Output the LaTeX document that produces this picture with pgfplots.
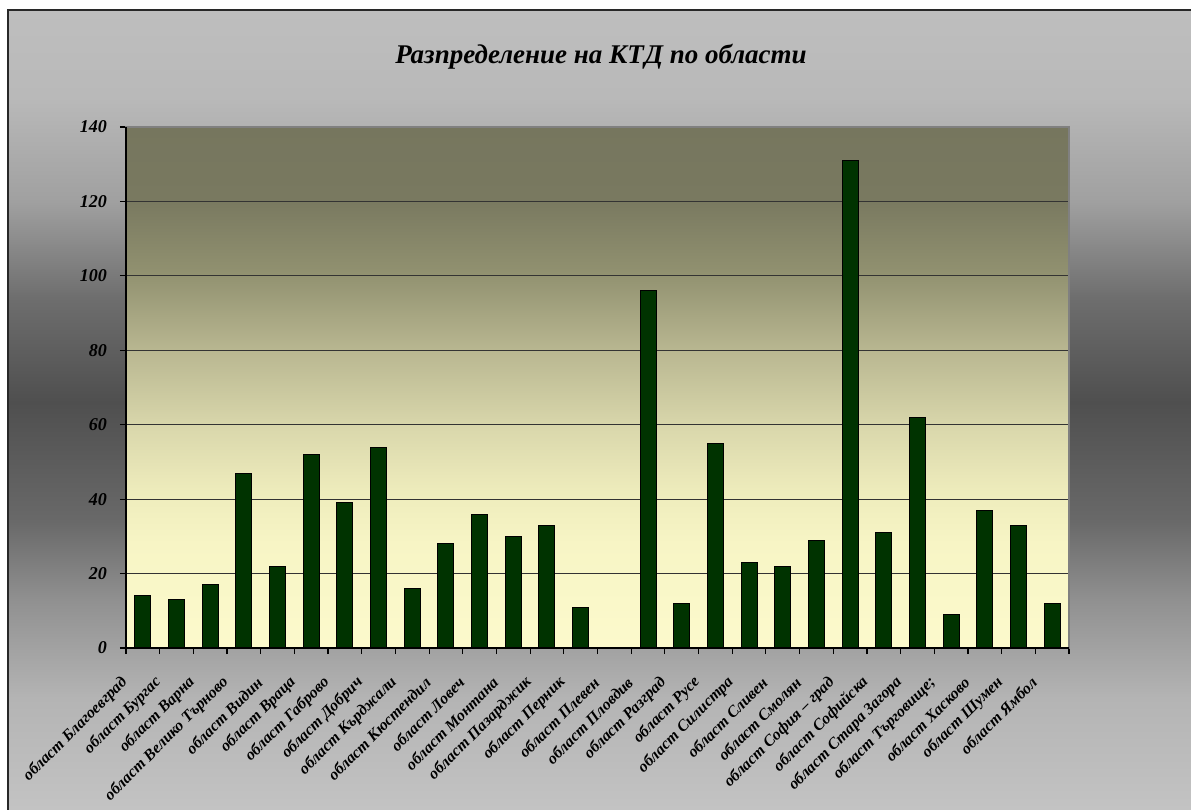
\documentclass[border=0pt]{standalone}
\usepackage{pgfplots}
\pgfplotsset{compat=1.18}
\usepackage{fontspec}
\setmainfont{Liberation Serif}

\definecolor{bargreen}{RGB}{0,51,0}
\definecolor{framedark}{RGB}{40,40,40}

% shadings: the shaded path covers the part from 25bp to 75bp
% plot area: dark olive at top, light yellow at bottom
\pgfdeclareverticalshading{plotbg}{100bp}{%
  rgb(0bp)=(0.988,0.980,0.800);
  rgb(25bp)=(0.988,0.980,0.800);
  rgb(35bp)=(0.969,0.961,0.773);
  rgb(40bp)=(0.933,0.925,0.737);
  rgb(46bp)=(0.855,0.847,0.675);
  rgb(53.5bp)=(0.725,0.718,0.569);
  rgb(61bp)=(0.569,0.569,0.439);
  rgb(68bp)=(0.475,0.475,0.376);
  rgb(75bp)=(0.463,0.463,0.369);
  rgb(100bp)=(0.463,0.463,0.369)}
% chart area: light grey, dark band in the middle
\pgfdeclareverticalshading{outerbg}{100bp}{%
  rgb(0bp)=(0.765,0.765,0.765);
  rgb(25bp)=(0.765,0.765,0.765);
  rgb(32bp)=(0.706,0.706,0.706);
  rgb(38bp)=(0.569,0.569,0.569);
  rgb(43bp)=(0.412,0.412,0.412);
  rgb(50.5bp)=(0.310,0.310,0.310);
  rgb(57bp)=(0.431,0.431,0.431);
  rgb(63bp)=(0.627,0.627,0.627);
  rgb(69.5bp)=(0.725,0.725,0.725);
  rgb(75bp)=(0.745,0.745,0.745);
  rgb(100bp)=(0.745,0.745,0.745)}

\begin{document}
\begin{tikzpicture}[x=1pt,y=1pt]
  % 1px = 0.5pt
  \fill[white] (0,0) rectangle (595.5,405);
  \shade[shading=outerbg] (3.5,0) rectangle (595.5,400);
  \draw[framedark, line width=1pt] (4,0) -- (4,400) -- (595.5,400);
  \node[font=\bfseries\itshape\fontsize{13.5}{16}\selectfont] at (300.5,376.5)
    {Разпределение на КТД по области};

  \begin{axis}[
      at={(63pt,81pt)}, anchor=south west,
      scale only axis,
      width=471.5pt, height=260.5pt,
      ybar, bar width=8pt,
      xmin=-0.5, xmax=27.5,
      ymin=0, ymax=140,
      ytick={0,20,...,140},
      xtick={0,1,...,27},
      xticklabels={област Благоевград, област Бургас, област Варна, област Велико Търново,
        област Видин, област Враца, област Габрово, област Добрич, област Кърджали,
        област Кюстендил, област Ловеч, област Монтана, област Пазарджик, област Перник,
        област Плевен, област Пловдив, област Разград, област Русе, област Силистра,
        област Сливен, област Смолян, област София – град, област Софийска,
        област Стара Загора, област Търговище;, област Хасково, област Шумен, област Ямбол},
      minor xtick={-0.5,0.5,...,27.5},
      xtick pos=bottom, ytick pos=left,
      major x tick style={draw=none},
      tick align=outside,
      major tick length=3pt, minor tick length=3pt,
      tick style={black, line width=0.6pt},
      ymajorgrids=true,
      grid style={black!80, line width=0.5pt},
      axis line style={draw=gray, line width=0.6pt},
      axis background/.style={shading=plotbg},
      yticklabel style={font=\bfseries\itshape\fontsize{9}{10}\selectfont, xshift=-3pt},
      /pgf/number format/assume math mode=true,
      xticklabel style={font=\bfseries\itshape\fontsize{8}{9}\selectfont,
        xshift=-6.5pt, yshift=-10.5pt, rotate=45, anchor=east},
      clip=false,
    ]
    \addplot[fill=bargreen, draw=black, line width=0.5pt] coordinates {
      (0,14) (1,13) (2,17) (3,47) (4,22) (5,52) (6,39) (7,54) (8,16) (9,28)
      (10,36) (11,30) (12,33) (13,11) (14,0) (15,96) (16,12) (17,55) (18,23)
      (19,22) (20,29) (21,131) (22,31) (23,62) (24,9) (25,37) (26,33) (27,12)};
    \draw[black, line width=0.6pt] (rel axis cs:0,1) -- (rel axis cs:0,0) -- (rel axis cs:1,0);
  \end{axis}
  \pgfresetboundingbox
  \path[use as bounding box] (0,0) rectangle (595.5,405);
\end{tikzpicture}
\end{document}
